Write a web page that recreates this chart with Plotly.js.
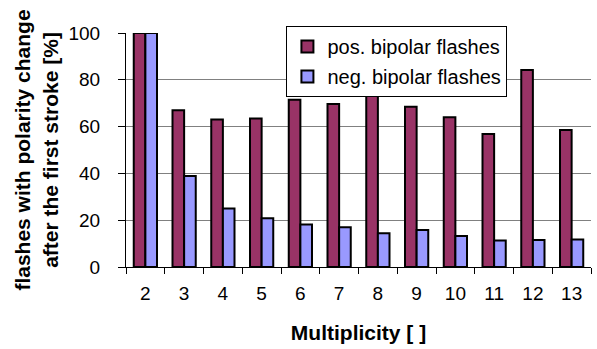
<!DOCTYPE html>
<html>
<head>
<meta charset="utf-8">
<script src="https://cdn.plot.ly/plotly-3.0.1.min.js"></script>
<style>html,body{margin:0;padding:0;background:#fff;}#chart{width:597px;height:349px;}</style>
</head>
<body>
<div id="chart"></div>
<script>
const multiplicity = ["2","3","4","5","6","7","8","9","10","11","12","13"];
const posBipolar = [100, 67, 63, 63.5, 71.5, 69.7, 76, 68.5, 64, 56.8, 84.2, 58.5];
const negBipolar = [100, 38.9, 25, 20.8, 18.2, 17, 14.4, 15.8, 13.2, 11.3, 11.5, 11.7];
const seriesNames = ["pos. bipolar flashes", "neg. bipolar flashes"];
const yTicks = [0, 20, 40, 60, 80, 100];

const FONT = "Liberation Sans, Arial, sans-serif";

const traces = [
  {type: "bar", x: multiplicity, y: posBipolar, name: seriesNames[0], legendgroup: "a",
   marker: {color: "#993366", line: {color: "#000", width: 2}}},
  {type: "bar", x: multiplicity, y: negBipolar, name: seriesNames[1], legendgroup: "b",
   marker: {color: "#9999FF", line: {color: "#000", width: 2}}}
];

const layout = {
  width: 597, height: 349,
  margin: {l: 126, r: 6, t: 33, b: 82},
  paper_bgcolor: "#fff", plot_bgcolor: "#fff",
  font: {family: FONT, color: "#000", size: 19},
  barmode: "group", bargap: 0.4, bargroupgap: 0,
  showlegend: true,
  legend: {x: 0.345, y: 1.03, xanchor: "left", yanchor: "top",
           bgcolor: "#fff", bordercolor: "#000", borderwidth: 1,
           font: {family: FONT, size: 20, color: "#000"},
           traceorder: "grouped", tracegroupgap: 1, itemwidth: 30},
  xaxis: {type: "category", tickson: "boundaries", ticks: "outside", ticklen: 6,
          tickcolor: "#000", showline: true, linecolor: "#000", linewidth: 1,
          showgrid: false, tickfont: {size: 19}, ticklabelstandoff: 9,
          title: {text: "Multiplicity [ ]", font: {size: 21, family: FONT, weight: "bold"}, standoff: 22}},
  yaxis: {range: [0, 100], tickvals: yTicks, ticks: "outside", ticklen: 7, tickcolor: "#000",
          showline: true, linecolor: "#000", linewidth: 1,
          showgrid: true, gridcolor: "#808080", gridwidth: 1, zeroline: false,
          tickfont: {size: 19}, ticklabelstandoff: 14,
          title: {text: "flashes with polarity change<br>after the first stroke [%]",
                  font: {size: 21, family: FONT, weight: "bold"}, standoff: 4}}
};

Plotly.newPlot("chart", traces, layout, {displayModeBar: false, staticPlot: true});
</script>
</body>
</html>
